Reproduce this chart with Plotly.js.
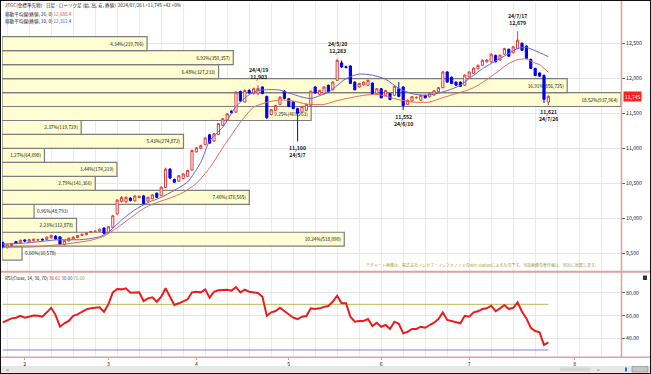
<!DOCTYPE html>
<html><head><meta charset="utf-8">
<script src="https://cdn.plot.ly/plotly-3.0.1.min.js"></script>
<style>html,body{margin:0;padding:0;background:#fff;}#chart{width:651px;height:374px;}</style>
</head><body><div id="chart"></div>
<script>
// ---- data ----
const dates = ['2024-01-25','2024-01-26','2024-01-29','2024-01-30','2024-01-31',
'2024-02-01','2024-02-02','2024-02-05','2024-02-06','2024-02-07','2024-02-08','2024-02-09','2024-02-13','2024-02-14','2024-02-15','2024-02-16','2024-02-19','2024-02-20','2024-02-21','2024-02-22','2024-02-26','2024-02-27','2024-02-28','2024-02-29',
'2024-03-01','2024-03-04','2024-03-05','2024-03-06','2024-03-07','2024-03-08','2024-03-11','2024-03-12','2024-03-13','2024-03-14','2024-03-15','2024-03-18','2024-03-19','2024-03-21','2024-03-22','2024-03-25','2024-03-26','2024-03-27','2024-03-28','2024-03-29',
'2024-04-01','2024-04-02','2024-04-03','2024-04-04','2024-04-05','2024-04-08','2024-04-09','2024-04-10','2024-04-11','2024-04-12','2024-04-15','2024-04-16','2024-04-17','2024-04-18','2024-04-19','2024-04-22','2024-04-23','2024-04-24','2024-04-25','2024-04-26','2024-04-30',
'2024-05-01','2024-05-02','2024-05-07','2024-05-08','2024-05-09','2024-05-10','2024-05-13','2024-05-14','2024-05-15','2024-05-16','2024-05-17','2024-05-20','2024-05-21','2024-05-22','2024-05-23','2024-05-24','2024-05-27','2024-05-28','2024-05-29','2024-05-30','2024-05-31',
'2024-06-03','2024-06-04','2024-06-05','2024-06-06','2024-06-07','2024-06-10','2024-06-11','2024-06-12','2024-06-13','2024-06-14','2024-06-17','2024-06-18','2024-06-19','2024-06-20','2024-06-21','2024-06-24','2024-06-25','2024-06-26','2024-06-27','2024-06-28',
'2024-07-01','2024-07-02','2024-07-03','2024-07-04','2024-07-05','2024-07-08','2024-07-09','2024-07-10','2024-07-11','2024-07-12','2024-07-16','2024-07-17','2024-07-18','2024-07-19','2024-07-22','2024-07-23','2024-07-24','2024-07-25','2024-07-26'];

const open = [9652,9580,9610,9665,9650,
9690,9660,9680,9690,9700,9695,9720,9745,9735,9625,9675,9705,9725,9755,9765,9800,9810,9815,9860,
9795,9870,10060,10240,10235,10290,10250,10295,10320,10245,10280,10360,10325,10440,10705,10555,10530,10570,10600,10690,
10950,11000,11055,11195,11105,11200,11330,11400,11535,11520,11815,11665,11830,11785,11790,11880,11745,11485,11545,11630,11820,
11710,11665,11570,11520,11545,11615,11880,11775,11785,11905,11840,11975,12225,12170,12180,11950,11880,11910,11905,11935,11785,
11855,11760,11785,11760,11855,11880,11630,11680,11725,11690,11760,11740,11765,11810,11870,12095,12020,11950,11950,11905,
12025,12075,12140,12190,12240,12240,12330,12265,12350,12420,12370,12430,12505,12465,12275,12145,12080,12045,11665];

const high = [9665,9630,9645,9675,9695,
9700,9705,9710,9705,9710,9740,9765,9755,9740,9690,9725,9740,9760,9780,9800,9820,9825,9850,9870,
9890,10050,10275,10320,10315,10300,10330,10325,10335,10310,10345,10370,10455,10725,10715,10570,10620,10645,10695,10985,
11020,11055,11160,11210,11220,11365,11435,11505,11545,11820,11830,11845,11850,11870,11903,11890,11755,11565,11625,11745,11835,
11720,11675,11585,11610,11640,11830,11890,11840,11890,11915,11960,12283,12260,12185,12190,11960,11940,11960,11985,11945,11865,
11865,11840,11795,11900,11950,11890,11700,11750,11745,11770,11770,11800,11835,11880,12110,12105,12030,11960,11960,12060,
12105,12160,12200,12275,12280,12360,12345,12345,12440,12430,12465,12679,12520,12475,12285,12155,12090,12060,11760];

const low = [9570,9565,9600,9630,9640,
9660,9650,9665,9670,9680,9685,9710,9695,9615,9610,9665,9700,9715,9745,9755,9790,9800,9805,9770,
9785,9860,10050,10225,10220,10240,10240,10285,10200,10235,10270,10290,10320,10430,10560,10505,10520,10560,10590,10680,
10940,10990,11045,11070,11095,11190,11320,11390,11500,11510,11670,11655,11785,11770,11760,11775,11420,11470,11530,11620,11705,
11590,11560,11100,11505,11535,11605,11785,11765,11775,11800,11830,11965,12150,12145,11920,11830,11870,11900,11895,11775,11775,
11715,11750,11690,11750,11735,11552,11620,11670,11710,11680,11715,11730,11755,11800,11860,11940,11920,11895,11880,11895,
12015,12065,12130,12180,12230,12230,12230,12255,12340,12310,12360,12420,12395,12280,12135,12035,12025,11650,11621];

const close = [9585,9620,9635,9640,9685,
9675,9695,9700,9695,9690,9730,9755,9705,9630,9680,9715,9730,9755,9770,9790,9810,9815,9845,9785,
9880,10035,10260,10300,10300,10255,10320,10315,10210,10300,10335,10300,10445,10705,10575,10515,10610,10635,10685,10970,
11010,11040,11150,11075,11210,11355,11425,11495,11510,11805,11680,11830,11795,11855,11860,11785,11440,11555,11615,11735,11715,
11600,11570,11505,11600,11630,11820,11795,11830,11880,11810,11950,12260,12165,12160,11930,11840,11930,11950,11975,11785,11855,
11725,11830,11700,11890,11745,11615,11690,11740,11730,11760,11725,11790,11825,11870,12095,11950,11930,11905,11890,12050,
12095,12150,12190,12260,12265,12350,12240,12335,12430,12320,12455,12550,12405,12290,12145,12045,12035,11703,11745];

const rsi = [54.2,56.3,57.7,58.3,60.0,
58.3,59.5,60.3,60.0,59.2,63.0,67.0,60.6,50.4,53.4,55.4,60.0,61.2,63.5,65.6,66.5,67.0,67.4,63.5,
70.0,80.5,83.4,83.1,84.0,80.2,80.5,80.5,72.9,75.2,76.1,72.3,76.7,84.0,76.7,69.4,70.9,72.3,74.4,80.5,
81.0,80.5,83.0,75.8,81.0,82.3,82.5,82.8,82.0,85.1,80.5,82.8,81.0,80.2,79.9,76.7,60.0,63.0,64.1,67.0,64.1,
60.6,58.3,57.1,59.2,59.8,66.5,66.0,66.5,67.8,68.5,72.3,77.5,70.9,70.9,59.2,54.8,55.4,55.4,57.1,51.0,53.9,
50.4,51.9,48.4,54.8,53.0,44.6,46.0,48.4,48.4,50.4,49.5,51.9,53.9,57.1,63.0,56.3,55.4,54.2,53.4,60.0,
59.2,63.0,63.9,65.9,66.5,68.8,64.1,66.5,69.4,65.9,67.0,71.7,63.5,57.7,49.5,46.6,45.5,34.4,36.61];
const rsiLevels = [30, 70];
const rsiTicks = [40, 60, 80];

const maBlueDates = ['2024-01-25','2024-02-02','2024-02-13','2024-02-21','2024-02-28','2024-03-01','2024-03-06','2024-03-11','2024-03-14','2024-03-19','2024-03-25','2024-03-28','2024-04-02','2024-04-04','2024-04-09','2024-04-12','2024-04-17','2024-04-19','2024-04-24','2024-04-26','2024-05-01','2024-05-08','2024-05-10','2024-05-14','2024-05-16','2024-05-20','2024-05-22','2024-05-27','2024-05-30','2024-06-04','2024-06-07','2024-06-12','2024-06-17','2024-06-20','2024-06-25','2024-06-27','2024-07-01','2024-07-04','2024-07-08','2024-07-10','2024-07-12','2024-07-17','2024-07-19','2024-07-23','2024-07-26'];
const maBlueVals = [9630,9650,9690,9695,9735,9800,9975,10120,10225,10300,10400,10520,10800,11110,11305,11600,11770,11830,11842,11835,11795,11735,11713,11755,11805,11900,12000,12065,12050,11990,11860,11784,11760,11790,11850,11904,12000,12140,12216,12287,12359,12431,12445,12400,12312.4];

const maRedDates = ['2024-01-25','2024-02-05','2024-02-15','2024-02-26','2024-02-29','2024-03-05','2024-03-08','2024-03-13','2024-03-18','2024-03-22','2024-03-27','2024-04-01','2024-04-04','2024-04-09','2024-04-15','2024-04-18','2024-04-23','2024-04-26','2024-05-02','2024-05-09','2024-05-15','2024-05-20','2024-05-22','2024-05-28','2024-05-31','2024-06-06','2024-06-12','2024-06-18','2024-06-21','2024-06-26','2024-07-01','2024-07-03','2024-07-08','2024-07-12','2024-07-17','2024-07-19','2024-07-23','2024-07-24','2024-07-26'];
const maRedVals = [9585,9590,9630,9685,9745,9865,10005,10140,10225,10290,10370,10500,10720,11010,11375,11590,11660,11695,11680,11635,11630,11685,11713,11760,11774,11713,11664,11664,11727,11784,11842,11904,12030,12216,12270,12280,12220,12200,12088.4];

const bandPrices = [9500,9700,9900,10100,10300,10500,10700,10900,11100,11300,11500,11700,11900,12100,12300,12500];
const bandPct = [0.60,10.24,2.23,0.96,7.40,2.79,3.44,1.27,5.43,2.37,9.25,18.52,16.91,6.48,6.92,4.34];
const bandVol = [30578,518090,112878,48793,376565,141366,174219,64098,274872,119729,469263,937964,856725,327233,350357,219706];

const priceTicks = [9500,10000,10500,11000,11500,12000,12500];
const monthTickDates = ['2024-02-01','2024-03-01','2024-04-01','2024-05-01','2024-06-03','2024-07-01','2024-08-01'];
const monthTickLabels = ['2','3','4','5','6','7','8'];

const markDates = ['2024-04-19','2024-05-07','2024-05-20','2024-06-10','2024-07-17','2024-07-26'];
const markKinds = ['high','low','high','low','high','low'];

// ---- helpers ----
const last = dates.length - 1;
const idx = dates.map((d, i) => i);
function posOf(d) {
  const k = dates.indexOf(d);
  if (k >= 0) return k;
  return last + Math.round((Date.parse(d) - Date.parse(dates[last])) / 86400000);
}
const fmt = v => Math.round(v).toLocaleString('en-US');
const fmt1 = v => v.toLocaleString('en-US', {minimumFractionDigits: 1, maximumFractionDigits: 1});
function shortDate(d) { const p = d.split('-'); return p[0].slice(2) + '/' + (+p[1]) + '/' + (+p[2]); }

const FONT = "'Noto Sans CJK JP', 'DejaVu Sans', sans-serif";
const XDOM = [2/651, 621/651];
const XR = [-0.18, 140.5];

const traces = [];
// volume-by-price bars (base axis, drawn beneath)
traces.push({
  type: 'bar', orientation: 'h', x: bandPct, y: bandPrices, width: 200,
  xaxis: 'x', yaxis: 'y',
  marker: {color: 'rgb(255,253,210)', line: {color: 'rgb(125,125,125)', width: 1.2}},
  text: bandPct.map((p, k) => p.toFixed(2) + '%(' + bandVol[k].toLocaleString('en-US') + ')'),
  textposition: 'auto', insidetextanchor: 'end', constraintext: 'none',
  textfont: {family: FONT, size: 4.7, color: '#111'},
  hoverinfo: 'skip'
});
// candles
traces.push({
  type: 'candlestick', x: idx, open: open, high: high, low: low, close: close,
  xaxis: 'x2', yaxis: 'y', whiskerwidth: 0,
  increasing: {line: {color: '#e03c3c', width: 1}, fillcolor: '#ffffff'},
  decreasing: {line: {color: '#0000f0', width: 1}, fillcolor: '#0000f0'},
  hoverinfo: 'skip'
});
// moving averages
traces.push({type: 'scatter', mode: 'lines', xaxis: 'x2', yaxis: 'y',
  x: maRedDates.map(posOf), y: maRedVals,
  line: {color: '#e06a6a', width: 1, shape: 'spline', smoothing: 0.6}, hoverinfo: 'skip'});
traces.push({type: 'scatter', mode: 'lines', xaxis: 'x2', yaxis: 'y',
  x: maBlueDates.map(posOf), y: maBlueVals,
  line: {color: '#6464d8', width: 1, shape: 'spline', smoothing: 0.6}, hoverinfo: 'skip'});
// RSI levels
traces.push({type: 'scatter', mode: 'lines', xaxis: 'x3', yaxis: 'y3',
  x: [idx[0], idx[last]], y: [rsiLevels[1], rsiLevels[1]],
  line: {color: 'rgb(184,184,100)', width: 1}, hoverinfo: 'skip'});
traces.push({type: 'scatter', mode: 'lines', xaxis: 'x3', yaxis: 'y3',
  x: [idx[0], idx[last]], y: [rsiLevels[0], rsiLevels[0]],
  line: {color: 'rgb(128,128,228)', width: 1}, hoverinfo: 'skip'});
// RSI
traces.push({type: 'scatter', mode: 'lines', xaxis: 'x3', yaxis: 'y3',
  x: idx, y: rsi, line: {color: '#ea1c1c', width: 2}, hoverinfo: 'skip'});

const ann = [];
markDates.forEach((d, k) => {
  const i = dates.indexOf(d);
  if (markKinds[k] === 'high') {
    ann.push({xref: 'x2', yref: 'y', x: i, y: high[i], yanchor: 'bottom', yshift: 2,
      text: shortDate(d) + '<br>' + fmt(high[i]), showarrow: false,
      font: {family: FONT, size: 5.2, color: '#111', weight: 'bold'}});
  } else {
    ann.push({xref: 'x2', yref: 'y', x: i, y: low[i], yanchor: 'top', yshift: -1,
      text: fmt(low[i]) + '<br>' + shortDate(d), showarrow: false,
      font: {family: FONT, size: 5.2, color: '#111', weight: 'bold'}});
  }
});
const pp = px => (374 - px) / 374;
const hdrFont = {family: FONT, size: 4.6, color: '#222'};
ann.push({xref: 'paper', yref: 'paper', x: 3/651, y: pp(5.8), xanchor: 'left', yanchor: 'middle', showarrow: false,
  text: 'JTGC(金標準先物) - 日足 - ローソク足 (始, 高, 安, 終値)&nbsp;&nbsp;' + dates[last].replace(/-/g, '/') +
        ' L=' + fmt(close[last]) + ' +' + (close[last] - close[last - 1]) + ' +0%',
  font: hdrFont});
ann.push({xref: 'paper', yref: 'paper', x: 3/651, y: pp(14), xanchor: 'left', yanchor: 'middle', showarrow: false,
  text: '移動平均線(終値, 26, 0) <span style="color:#e04848">' + fmt1(maRedVals[maRedVals.length - 1]) + '</span>',
  font: hdrFont});
ann.push({xref: 'paper', yref: 'paper', x: 3/651, y: pp(21.8), xanchor: 'left', yanchor: 'middle', showarrow: false,
  text: '移動平均線(終値, 10, 0) <span style="color:#4848e0">' + fmt1(maBlueVals[maBlueVals.length - 1]) + '</span>',
  font: hdrFont});
ann.push({xref: 'paper', yref: 'paper', x: 3/651, y: pp(277.8), xanchor: 'left', yanchor: 'middle', showarrow: false,
  text: 'RSI(Close, 14, ' + rsiLevels[0] + ', ' + rsiLevels[1] + ') <span style="color:#e02020">' + rsi[last].toFixed(2) +
        '</span> <span style="color:#5050e0">' + rsiLevels[0].toFixed(2) + '</span> <span style="color:#a0a040">' + rsiLevels[1].toFixed(2) + '</span>',
  font: {family: FONT, size: 4.5, color: '#222'}});
ann.push({xref: 'paper', yref: 'paper', x: 482/651, y: pp(265.2), xanchor: 'center', yanchor: 'middle', showarrow: false,
  text: '※チャート画像は、株式会社インカブ・インフォノイドのWin-Stationによるものです。当該画像の著作権は、同社に帰属します。',
  font: {family: FONT, size: 4.0, color: '#a4a030'}});
ann.push({xref: 'paper', yref: 'y', x: 623/651, y: close[last], xanchor: 'left', yanchor: 'middle', showarrow: false,
  text: fmt(close[last]), bgcolor: '#ff2020', borderpad: 1,
  font: {family: FONT, size: 5, color: '#ffffff'}});
ann.push({xref: 'paper', yref: 'paper', x: 4/651, y: pp(369.5), xanchor: 'left', yanchor: 'middle', showarrow: false,
  text: '<', font: {family: FONT, size: 5, color: '#555'}});
ann.push({xref: 'paper', yref: 'paper', x: 595/651, y: pp(369.5), xanchor: 'left', yanchor: 'middle', showarrow: false,
  text: '>', font: {family: FONT, size: 5, color: '#555'}});

const pink = 'rgb(228,160,160)';
const shapes = [
  {type: 'rect', xref: 'paper', yref: 'paper', x0: 0, x1: 1, y0: pp(372.8), y1: pp(366), fillcolor: '#e6e6e6', line: {width: 0}, layer: 'below'},
  {type: 'rect', xref: 'paper', yref: 'paper', x0: 560/651, x1: 590/651, y0: pp(371.5), y1: pp(367.5), fillcolor: '#d4d4d4', line: {width: 0}, layer: 'below'},
  {type: 'rect', xref: 'paper', yref: 'paper', x0: 625/651, x1: 627/651, y0: pp(371.5), y1: pp(367.5), fillcolor: '#3a6ad8', line: {width: 0}},
  {type: 'rect', xref: 'paper', yref: 'paper', x0: 632/651, x1: 648/651, y0: pp(372), y1: pp(366.5), fillcolor: '#c8c8c8', line: {color: '#777', width: 0.5}},
  {type: 'line', xref: 'paper', yref: 'paper', x0: 0, x1: 1, y0: pp(271.8), y1: pp(271.8), line: {color: pink, width: 2}},
  {type: 'line', xref: 'paper', yref: 'paper', x0: 0, x1: 1, y0: pp(357.3), y1: pp(357.3), line: {color: pink, width: 1.5}},
  {type: 'line', xref: 'paper', yref: 'paper', x0: 621.5/651, x1: 621.5/651, y0: pp(357.3), y1: 1, line: {color: pink, width: 1.5}},
  {type: 'rect', xref: 'paper', yref: 'paper', x0: 643/651, x1: 647/651, y0: pp(280), y1: pp(275.5), fillcolor: '#333', line: {width: 0}},
  {type: 'rect', xref: 'paper', yref: 'paper', x0: 0, x1: 1, y0: 0, y1: 1, line: {color: '#111', width: 2}}
];

const tickFont = {family: FONT, size: 5.2, color: '#222'};
const layout = {
  width: 651, height: 374, margin: {l: 0, r: 0, t: 0, b: 0},
  paper_bgcolor: '#ffffff', plot_bgcolor: '#ffffff', showlegend: false,
  font: {family: FONT, size: 5, color: '#333'},
  bargap: 0,
  xaxis: {domain: XDOM, range: [0, 18.52], visible: false, fixedrange: true, anchor: 'y'},
  xaxis2: {overlaying: 'x', anchor: 'y', range: XR, tickmode: 'linear', tick0: 1, dtick: 5,
    showgrid: true, gridcolor: '#ebebeb', gridwidth: 1, showticklabels: false, ticks: '', zeroline: false,
    showline: false, rangeslider: {visible: false}},
  yaxis: {domain: [pp(271), pp(3)], range: [9245.3, 13082], side: 'right', anchor: 'x',
    tickmode: 'array', tickvals: priceTicks, ticktext: priceTicks.map(fmt),
    ticks: 'outside', ticklen: 3, tickcolor: '#666', tickfont: tickFont,
    showgrid: true, gridcolor: '#e6e6e6', zeroline: false, showline: false},
  xaxis3: {domain: XDOM, anchor: 'y3', range: XR, tickmode: 'array',
    tickvals: monthTickDates.map(posOf), ticktext: monthTickLabels,
    ticks: 'outside', ticklen: 2, tickcolor: pink, tickfont: tickFont,
    showgrid: false, zeroline: false, showline: false,
    minor: {tickmode: 'linear', tick0: 1, dtick: 5, showgrid: true, gridcolor: '#ebebeb', ticks: ''}},
  yaxis3: {domain: [pp(357), pp(272)], range: [23.9, 98.3], side: 'right', anchor: 'x3',
    tickmode: 'array', tickvals: rsiTicks, ticktext: rsiTicks.map(v => v.toFixed(2)),
    ticks: 'outside', ticklen: 3, tickcolor: '#666', tickfont: tickFont,
    showgrid: true, gridcolor: '#e6e6e6', zeroline: false, showline: false},
  annotations: ann, shapes: shapes
};
Plotly.newPlot('chart', traces, layout, {staticPlot: true, displayModeBar: false});
</script></body></html>
